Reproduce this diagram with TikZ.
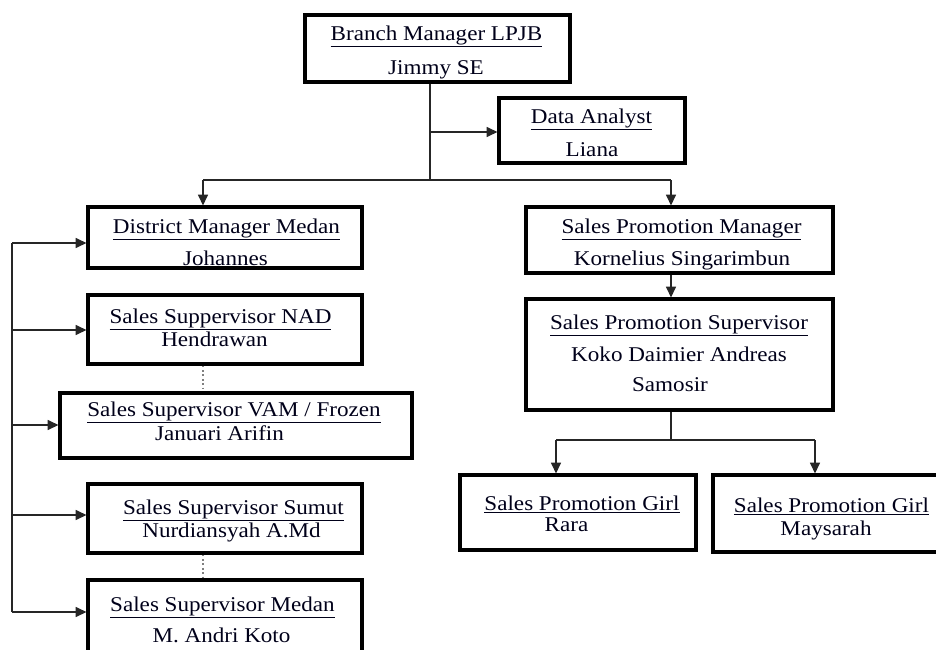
\documentclass[tikz,border=0pt]{standalone}
\usepackage{fontspec}
\setmainfont[FakeStretch=1.1]{Liberation Serif}
\usetikzlibrary{arrows.meta,fit}
\begin{document}
\begin{tikzpicture}[x=0.75pt,y=-0.75pt,
  box/.style={draw=black, line width=2.4pt, inner sep=0pt},
  txt/.style={anchor=base, inner sep=0pt, text=black!90!blue, font=\fontsize{15.75}{18}\selectfont},
  conn/.style={line width=1pt, draw=black!85},
  arr/.style={conn, -{Triangle[length=8pt,width=7.5pt]}},
  dotl/.style={draw=gray, line width=1.3pt, dotted}]
\clip (0,0) rectangle (936,650);
% boxes
\node[box, fit={(305,15) (570,82)}] (bm) {};
\node[box, fit={(499,98) (685,163)}] (da) {};
\node[box, fit={(88,207) (362,268)}] (dm) {};
\node[box, fit={(88,295) (362,364)}] (nad) {};
\node[box, fit={(60,393) (412,458)}] (vam) {};
\node[box, fit={(88,484) (362,553)}] (sumut) {};
\node[box, fit={(88,580) (362,662)}] (medan) {};
\node[box, fit={(526,207) (833,273)}] (spm) {};
\node[box, fit={(526,299) (833,410)}] (sps) {};
\node[box, fit={(460,475) (696,550)}] (rara) {};
\node[box, fit={(713,475) (945,552)}] (mays) {};
% texts
\node[txt] (bmA) at (436.5,40) {\underline{Branch Manager LPJB}};
\node[txt] (bmB) at (436,74) {Jimmy SE};
\node[txt] (daA) at (591.5,123) {\underline{Data Analyst}};
\node[txt] (daB) at (592,156) {Liana};
\node[txt] (dmA) at (226.5,233) {\underline{District Manager Medan}};
\node[txt] (dmB) at (225.5,265) {Johannes};
\node[txt] (nadA) at (220.5,323) {\underline{Sales Suppervisor NAD}};
\node[txt] (nadB) at (214.5,346) {Hendrawan};
\node[txt] (vamA) at (234,416) {\underline{Sales Supervisor VAM / Frozen}};
\node[txt] (vamB) at (219.5,440) {Januari Arifin};
\node[txt] (suA) at (233.5,514) {\underline{Sales Supervisor Sumut}};
\node[txt] (suB) at (231.5,537) {Nurdiansyah A.Md};
\node[txt] (meA) at (222.5,611) {\underline{Sales Supervisor Medan}};
\node[txt] (meB) at (221.5,642) {M. Andri Koto};
\node[txt] (spmA) at (681.5,233) {\underline{Sales Promotion Manager}};
\node[txt] (spmB) at (682,265) {Kornelius Singarimbun};
\node[txt] (spsA) at (679,329) {\underline{Sales Promotion Supervisor}};
\node[txt] (spsB) at (679,361) {Koko Daimier Andreas};
\node[txt] (spsC) at (670,391) {Samosir};
\node[txt] (raA) at (582,510) {\underline{Sales Promotion Girl}};
\node[txt] (raB) at (566.5,531) {Rara};
\node[txt] (maA) at (831.5,512) {\underline{Sales Promotion Girl}};
\node[txt] (maB) at (826,535) {Maysarah};
% connector points
\coordinate (j1) at (430,180);
\coordinate (hl) at (203,180);
\coordinate (hr) at (671,180);
\coordinate (da0) at (430,132);
\coordinate (s0) at (671,440);
\coordinate (sl) at (556,440);
\coordinate (sr) at (815,440);
\coordinate (lb1) at (12,243);
\coordinate (lb2) at (12,330);
\coordinate (lb3) at (12,425);
\coordinate (lb4) at (12,515);
\coordinate (lb5) at (12,612);
\coordinate (d1) at (203,0);
% connectors
\draw[conn] (bm.south -| j1) -- (j1);
\draw[arr] (da0) -- (da0 -| da.west);
\draw[conn] (hl) -- (hr);
\draw[arr] (hl) -- (hl |- dm.north);
\draw[arr] (hr) -- (hr |- spm.north);
\draw[arr] (spm.south -| hr) -- (sps.north -| hr);
\draw[conn] (sps.south -| s0) -- (s0);
\draw[conn] (sl) -- (sr);
\draw[arr] (sl) -- (sl |- rara.north);
\draw[arr] (sr) -- (sr |- mays.north);
\draw[conn] (lb1) -- (lb5);
\draw[arr] (lb1) -- (lb1 -| dm.west);
\draw[arr] (lb2) -- (lb2 -| nad.west);
\draw[arr] (lb3) -- (lb3 -| vam.west);
\draw[arr] (lb4) -- (lb4 -| sumut.west);
\draw[arr] (lb5) -- (lb5 -| medan.west);
\draw[dotl] (nad.south -| d1) -- (vam.north -| d1);
\draw[dotl] (sumut.south -| d1) -- (medan.north -| d1);
\end{tikzpicture}
\end{document}
